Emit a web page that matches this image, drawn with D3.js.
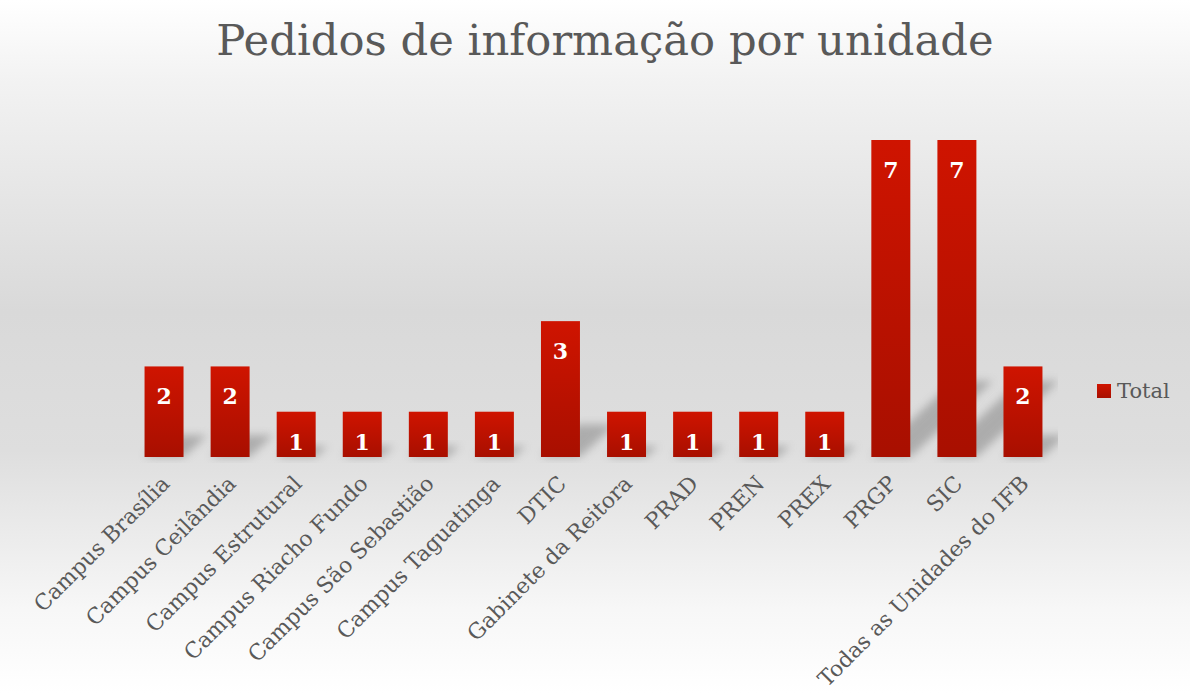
<!DOCTYPE html>
<html>
<head>
<meta charset="utf-8">
<script src="https://cdn.jsdelivr.net/npm/d3@7"></script>
<style>
  body { margin: 0; background: #fff; }
  text { font-family: "DejaVu Serif", "Liberation Serif", serif; }
</style>
</head>
<body>
<svg id="chart" width="1190" height="693"></svg>
<script>
const units = ['Campus Brasília', 'Campus Ceilândia', 'Campus Estrutural', 'Campus Riacho Fundo',
  'Campus São Sebastião', 'Campus Taguatinga', 'DTIC', 'Gabinete da Reitora', 'PRAD', 'PREN',
  'PREX', 'PRGP', 'SIC', 'Todas as Unidades do IFB'];
const totals = [2, 2, 1, 1, 1, 1, 3, 1, 1, 1, 1, 7, 7, 2];
const seriesName = 'Total';

const width = 1190;
const height = 693;
const base = 457;

const svg = d3.select('#chart');
const defs = svg.append('defs');

// background fade: white -> grey -> white
const bg = defs.append('linearGradient').attr('id', 'bg')
  .attr('x1', 0).attr('y1', 0).attr('x2', 0).attr('y2', 1);
bg.append('stop').attr('offset', '0%').attr('stop-color', '#ffffff');
bg.append('stop').attr('offset', '12%').attr('stop-color', '#f2f2f2');
bg.append('stop').attr('offset', '45%').attr('stop-color', '#d9d9d9');
bg.append('stop').attr('offset', '65%').attr('stop-color', '#dedede');
bg.append('stop').attr('offset', '88%').attr('stop-color', '#f7f7f7');
bg.append('stop').attr('offset', '100%').attr('stop-color', '#ffffff');

const barGrad = defs.append('linearGradient').attr('id', 'barGrad')
  .attr('x1', 0).attr('y1', 0).attr('x2', 0).attr('y2', 1);
barGrad.append('stop').attr('offset', '0%').attr('stop-color', '#cf1400');
barGrad.append('stop').attr('offset', '100%').attr('stop-color', '#a80f00');

defs.append('filter').attr('id', 'blur')
  .attr('x', '-50%').attr('y', '-50%').attr('width', '200%').attr('height', '200%')
  .append('feGaussianBlur').attr('stdDeviation', 4);

defs.append('clipPath').attr('id', 'plotClip')
  .append('rect').attr('x', 120).attr('y', 100).attr('width', 938).attr('height', base - 100 + 6);

svg.append('rect').attr('width', width).attr('height', height).attr('fill', 'url(#bg)');

svg.append('text')
  .text('Pedidos de informação por unidade')
  .attr('x', 605).attr('y', 55)
  .attr('text-anchor', 'middle')
  .attr('font-size', 43.3)
  .attr('fill', '#595959');

const xscale = d3.scaleBand()
  .domain(units)
  .range([131, 1056])
  .paddingInner(0.41)
  .paddingOuter(0.205);

const yscale = d3.scaleLinear()
  .domain([0, 7])
  .range([base, 140]);

// soft shadows cast to the upper right
const shadows = svg.append('g').attr('clip-path', 'url(#plotClip)');
shadows.selectAll('path')
  .data(units)
  .enter()
  .append('path')
  .attr('d', (d, i) => {
    const x0 = xscale(d);
    const x1 = x0 + xscale.bandwidth();
    const h = base - yscale(totals[i]);
    const dx = h * 0.26;
    const dy = h * 0.24;
    return `M${x0},${base} L${x1},${base} L${x1 + dx},${base - dy} L${x0 + dx},${base - dy} Z`;
  })
  .attr('fill', '#8c8c8c')
  .attr('opacity', 0.6)
  .attr('filter', 'url(#blur)');

svg.append('g')
  .selectAll('rect')
  .data(units)
  .enter()
  .append('rect')
  .attr('x', (d) => xscale(d))
  .attr('y', (d, i) => yscale(totals[i]))
  .attr('width', xscale.bandwidth())
  .attr('height', (d, i) => base - yscale(totals[i]))
  .attr('fill', 'url(#barGrad)');

svg.append('g')
  .selectAll('text')
  .data(units)
  .enter()
  .append('text')
  .text((d, i) => totals[i])
  .attr('x', (d) => xscale(d) + xscale.bandwidth() / 2)
  .attr('y', (d, i) => yscale(totals[i]) + 38)
  .attr('text-anchor', 'middle')
  .attr('font-size', 22)
  .attr('font-weight', 'bold')
  .attr('fill', '#ffffff');

// category axis, rotated labels
const bottomAxis = d3.axisBottom(xscale).tickSize(0).tickPadding(0);
const axisG = svg.append('g')
  .attr('transform', `translate(0, ${base})`)
  .call(bottomAxis);
axisG.select('.domain').remove();
axisG.selectAll('text')
  .attr('font-family', '"DejaVu Serif", serif')
  .attr('font-size', 21.8)
  .attr('fill', '#595959')
  .attr('text-anchor', 'end')
  .attr('dy', 0)
  .attr('transform', 'translate(7, 28) rotate(-45)');

// legend
const legend = svg.append('g');
legend.append('rect')
  .attr('x', 1097).attr('y', 384).attr('width', 14).attr('height', 14)
  .attr('fill', 'url(#barGrad)');
legend.append('text')
  .text(seriesName)
  .attr('x', 1117).attr('y', 398)
  .attr('font-size', 21)
  .attr('fill', '#595959');
</script>
</body>
</html>
